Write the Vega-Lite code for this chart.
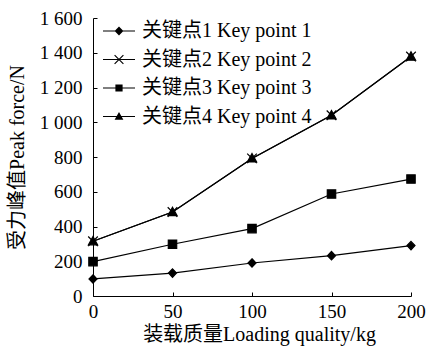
{
  "$schema": "https://vega.github.io/schema/vega-lite/v6.json",
  "width": 318,
  "height": 278,
  "autosize": {"type": "none"},
  "padding": {"left": 93, "top": 18, "right": 17, "bottom": 53},
  "background": "white",
  "config": {"view": {"stroke": null}, "font": "Liberation Serif, Noto Sans CJK SC"},
  "data": {"values": [
    {"series": "关键点1 Key point 1", "x": 0, "y": 98},
    {"series": "关键点1 Key point 1", "x": 50, "y": 132},
    {"series": "关键点1 Key point 1", "x": 100, "y": 190},
    {"series": "关键点1 Key point 1", "x": 150, "y": 232},
    {"series": "关键点1 Key point 1", "x": 200, "y": 290},
    {"series": "关键点2 Key point 2", "x": 0, "y": 315},
    {"series": "关键点2 Key point 2", "x": 50, "y": 483},
    {"series": "关键点2 Key point 2", "x": 100, "y": 792},
    {"series": "关键点2 Key point 2", "x": 150, "y": 1040},
    {"series": "关键点2 Key point 2", "x": 200, "y": 1378},
    {"series": "关键点3 Key point 3", "x": 0, "y": 198},
    {"series": "关键点3 Key point 3", "x": 50, "y": 298},
    {"series": "关键点3 Key point 3", "x": 100, "y": 388},
    {"series": "关键点3 Key point 3", "x": 150, "y": 587},
    {"series": "关键点3 Key point 3", "x": 200, "y": 673},
    {"series": "关键点4 Key point 4", "x": 0, "y": 315},
    {"series": "关键点4 Key point 4", "x": 50, "y": 483},
    {"series": "关键点4 Key point 4", "x": 100, "y": 792},
    {"series": "关键点4 Key point 4", "x": 150, "y": 1040},
    {"series": "关键点4 Key point 4", "x": 200, "y": 1378}
  ]},
  "encoding": {
    "x": {
      "field": "x", "type": "quantitative",
      "scale": {"domain": [0, 200], "nice": false},
      "axis": {
        "values": [0, 50, 100, 150, 200],
        "title": "装载质量Loading quality/kg",
        "titleX": 166,
        "grid": false, "tickSize": -4, "labelPadding": 10, "labelFlush": false,
        "labelFontSize": 19, "titleFontSize": 20, "titleFontWeight": "normal", "titlePadding": 3,
        "labelFont": "Liberation Serif, Noto Sans CJK SC", "titleFont": "Liberation Serif, Noto Sans CJK SC",
        "domainColor": "black", "tickColor": "black", "labelColor": "black", "titleColor": "black"
      }
    },
    "y": {
      "field": "y", "type": "quantitative",
      "scale": {"domain": [0, 1600], "nice": false},
      "axis": {
        "values": [0, 200, 400, 600, 800, 1000, 1200, 1400, 1600],
        "labelExpr": "replace(format(datum.value, ',d'), ',', ' ')",
        "title": "受力峰值Peak force/N",
        "grid": false, "tickSize": -4, "labelPadding": 15, "labelFlush": false,
        "labelFontSize": 19, "titleFontSize": 20, "titleFontWeight": "normal", "titlePadding": 12,
        "labelFont": "Liberation Serif, Noto Sans CJK SC", "titleFont": "Liberation Serif, Noto Sans CJK SC",
        "domainColor": "black", "tickColor": "black", "labelColor": "black", "titleColor": "black"
      }
    }
  },
  "resolve": {"scale": {"shape": "independent"}},
  "layer": [
    {
      "mark": {"type": "line", "color": "black", "strokeWidth": 1.2},
      "encoding": {"detail": {"field": "series", "type": "nominal"}}
    },
    {
      "mark": {"type": "point", "filled": true, "fill": "black", "stroke": "black", "strokeWidth": 1.2, "size": 64, "opacity": 1},
      "encoding": {
        "shape": {
          "field": "series", "type": "nominal",
          "scale": {
            "domain": ["关键点1 Key point 1", "关键点2 Key point 2", "关键点3 Key point 3", "关键点4 Key point 4"],
            "range": [
              "M0,-1.05L1,0L0,1.05L-1,0Z",
              "M-1.2,-1.2L1.2,1.2M-1.2,1.2L1.2,-1.2",
              "M-1.05,-1.05H1.05V1.05H-1.05Z",
              "M0,-1.2L1.15,0.9H-1.15Z"
            ]
          },
          "legend": null
        }
      }
    },
    {
      "transform": [{"filter": "datum.x < 0"}],
      "mark": {"type": "point", "filled": true, "fill": "black", "opacity": 1},
      "encoding": {
        "shape": {
          "field": "series", "type": "nominal",
          "scale": {
            "domain": ["关键点1 Key point 1", "关键点2 Key point 2", "关键点3 Key point 3", "关键点4 Key point 4"],
            "range": [
              "M-2,-0.075V0.075H2V-0.075ZM0,-0.55L-0.55,0L0,0.55L0.55,0Z",
              "M-2,-0.075V0.075H2V-0.075ZM-0.6,-0.5L0.5,0.6L0.6,0.5L-0.5,-0.6ZM-0.6,0.5L-0.5,0.6L0.6,-0.5L0.5,-0.6Z",
              "M-2,-0.075V0.075H2V-0.075ZM-0.45,-0.45V0.45H0.45V-0.45Z",
              "M-2,-0.075V0.075H2V-0.075ZM0,-0.55L-0.55,0.4H0.55Z"
            ]
          },
          "legend": {
            "title": null,
            "orient": "none",
            "legendX": 16,
            "legendY": 3,
            "symbolSize": 256,
            "labelFontSize": 20,
            "labelFont": "Liberation Serif, Noto Sans CJK SC",
            "labelColor": "black",
            "labelLimit": 300,
            "labelOffset": 13,
            "rowPadding": 8.5,
            "symbolOpacity": 1,
            "symbolFillColor": "black"
          }
        }
      }
    }
  ]
}
